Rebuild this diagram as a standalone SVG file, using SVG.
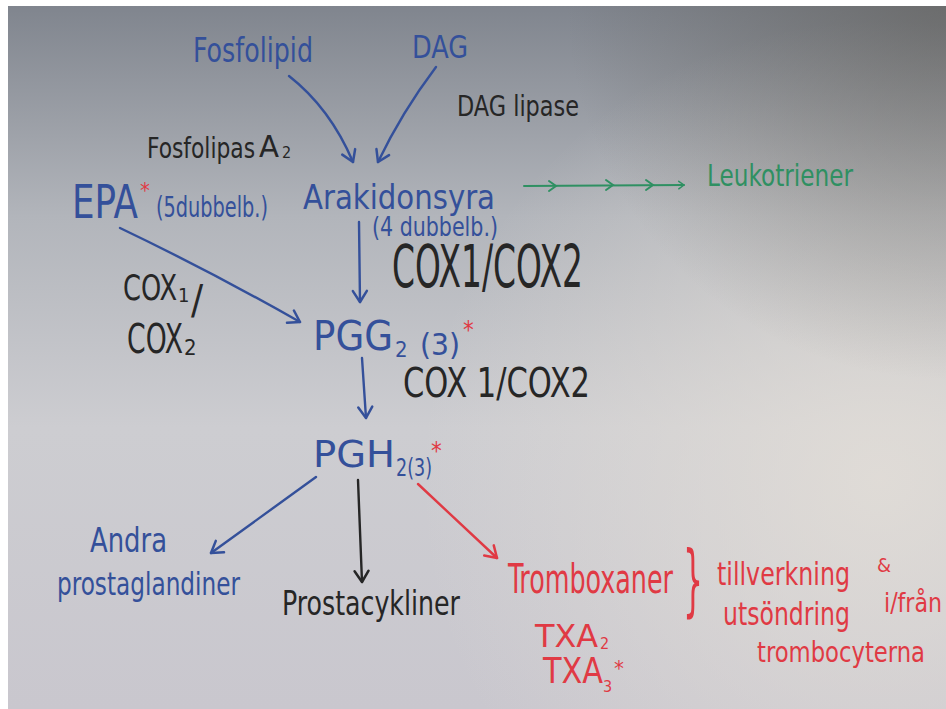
<svg xmlns="http://www.w3.org/2000/svg" width="946" height="709" viewBox="0 0 946 709">
  <defs>
    <linearGradient id="board" x1="0" y1="0" x2="0" y2="1">
      <stop offset="0" stop-color="#80858e"/>
      <stop offset="0.3" stop-color="#b2b5bb"/>
      <stop offset="0.6" stop-color="#cdcdd1"/>
      <stop offset="1" stop-color="#c9c7ce"/>
    </linearGradient>
    <radialGradient id="glow" cx="880" cy="480" r="460" gradientUnits="userSpaceOnUse">
      <stop offset="0" stop-color="#e4dfd8" stop-opacity="0.8"/>
      <stop offset="1" stop-color="#e4dfd8" stop-opacity="0"/>
    </radialGradient>
    <radialGradient id="shade" cx="946" cy="0" r="380" gradientUnits="userSpaceOnUse">
      <stop offset="0" stop-color="#5e5c57" stop-opacity="0.6"/>
      <stop offset="1" stop-color="#5e5c57" stop-opacity="0"/>
    </radialGradient>
    <marker id="hBlue" viewBox="-14 -9 16 18" refX="0" refY="0" markerWidth="16" markerHeight="18" markerUnits="userSpaceOnUse" orient="auto">
      <path d="M-11,-7 L0,0 L-11,7" fill="none" stroke="#34509a" stroke-width="2.5" stroke-linecap="round" stroke-linejoin="round"/>
    </marker>
    <marker id="hBlack" viewBox="-14 -9 16 18" refX="0" refY="0" markerWidth="16" markerHeight="18" markerUnits="userSpaceOnUse" orient="auto">
      <path d="M-11,-7 L0,0 L-11,7" fill="none" stroke="#262626" stroke-width="2.5" stroke-linecap="round" stroke-linejoin="round"/>
    </marker>
    <marker id="hRed" viewBox="-14 -9 16 18" refX="0" refY="0" markerWidth="16" markerHeight="18" markerUnits="userSpaceOnUse" orient="auto">
      <path d="M-11,-7 L0,0 L-11,7" fill="none" stroke="#e03a44" stroke-width="2.5" stroke-linecap="round" stroke-linejoin="round"/>
    </marker>
    <marker id="hGreen" viewBox="-14 -9 16 18" refX="0" refY="0" markerWidth="12" markerHeight="14" markerUnits="userSpaceOnUse" orient="auto">
      <path d="M-7,-5 L0,0 L-7,5" fill="none" stroke="#2f9062" stroke-width="2" stroke-linecap="round" stroke-linejoin="round"/>
    </marker>
  </defs>
  <style>
    text { font-family: "Liberation Sans Narrow", "DejaVu Sans Condensed", "Liberation Sans", sans-serif; }
    .blue { fill: #34509a; }
    .black { fill: #262626; }
    .red { fill: #e03a44; }
    .green { fill: #2f9062; }
    .star { fill: #e03a44; }
    .ln { fill: none; stroke-width: 2.4; stroke-linecap: round; }
    .lb { stroke: #34509a; }
    .lk { stroke: #262626; }
    .lr { stroke: #e03a44; }
    .lg { stroke: #2f9062; stroke-width: 2; }
  </style>

  <!-- whiteboard -->
  <rect x="0" y="0" width="946" height="709" fill="#ffffff"/>
  <rect x="8" y="6" width="938" height="703" fill="url(#board)"/>
  <rect x="8" y="6" width="938" height="703" fill="url(#glow)"/>
  <rect x="8" y="6" width="938" height="703" fill="url(#shade)"/>

  <g id="connectors">
    <path class="ln lb" d="M289,76 Q330,108 353,162" marker-end="url(#hBlue)"/>
    <path class="ln lb" stroke-width="2" d="M436,67 Q402,112 378,162" marker-end="url(#hBlue)"/>
    <path class="ln lb" d="M120,228 Q212,272 300,322" marker-end="url(#hBlue)"/>
    <path class="ln lb" d="M359,222 L360,302" marker-end="url(#hBlue)"/>
    <path class="ln lb" d="M362,358 L366,418" marker-end="url(#hBlue)"/>
    <path class="ln lb" d="M316,477 L211,553" marker-end="url(#hBlue)"/>
    <path class="ln lk" d="M358,480 L362,582" marker-end="url(#hBlack)"/>
    <path class="ln lr" d="M418,484 L497,558" marker-end="url(#hRed)"/>
    <path class="ln lg" d="M524,186 L684,185" marker-end="url(#hGreen)"/>
    <path class="ln lg" d="M549,181 L556,186 L549,191 M606,180 L613,185 L606,190 M646,180 L653,185 L646,190"/>
  </g>

  <g id="fosfolipid"><text class="blue" x="193" y="62" font-size="34" textLength="120" lengthAdjust="spacingAndGlyphs">Fosfolipid</text></g>
  <g id="dag"><text class="blue" x="412" y="58" font-size="32" textLength="56" lengthAdjust="spacingAndGlyphs">DAG</text></g>
  <g id="dag-lipase"><text class="black" x="457" y="116" font-size="28" textLength="122" lengthAdjust="spacingAndGlyphs">DAG lipase</text></g>
  <g id="fosfolipas-a2">
    <text class="black" x="147" y="158" font-size="28"><tspan textLength="108" lengthAdjust="spacingAndGlyphs">Fosfolipas</tspan><tspan x="259" y="157" font-size="30" textLength="20" lengthAdjust="spacingAndGlyphs">A</tspan><tspan x="282" y="158" font-size="16">2</tspan></text>
  </g>

  <g id="epa">
    <text class="blue" x="72" y="218" font-size="46"><tspan textLength="66" lengthAdjust="spacingAndGlyphs">EPA</tspan><tspan class="star" x="140" y="198" font-size="22">*</tspan><tspan x="156" y="217" font-size="28" textLength="112" lengthAdjust="spacingAndGlyphs">(5dubbelb.)</tspan></text>
  </g>

  <g id="arakidonsyra">
    <text class="blue" x="303" y="209" font-size="34" textLength="192" lengthAdjust="spacingAndGlyphs">Arakidonsyra</text>
    <text class="blue" x="372" y="236" font-size="26" textLength="126" lengthAdjust="spacingAndGlyphs">(4 dubbelb.)</text>
  </g>

  <g id="leukotriener"><text class="green" x="707" y="186" font-size="30" textLength="146" lengthAdjust="spacingAndGlyphs">Leukotriener</text></g>

  <g id="cox-upper"><text class="black" x="392" y="287" font-size="58" textLength="191" lengthAdjust="spacingAndGlyphs">COX1/COX2</text></g>

  <g id="cox-left">
    <text class="black" x="123" y="300" font-size="36"><tspan textLength="54" lengthAdjust="spacingAndGlyphs">COX</tspan><tspan x="178" y="302" font-size="20">1</tspan><tspan x="191" y="314" font-size="40">/</tspan><tspan x="127" y="353" font-size="40" textLength="56" lengthAdjust="spacingAndGlyphs">COX</tspan><tspan x="184" y="355" font-size="22">2</tspan></text>
  </g>

  <g id="pgg2">
    <text class="blue" x="313" y="350" font-size="40"><tspan textLength="80" lengthAdjust="spacingAndGlyphs">PGG</tspan><tspan x="395" y="357" font-size="22">2</tspan><tspan x="420" y="355" font-size="30" textLength="40" lengthAdjust="spacingAndGlyphs">(3)</tspan><tspan class="star" x="463" y="338" font-size="24">*</tspan></text>
  </g>

  <g id="cox-lower"><text class="black" x="403" y="397" font-size="40" textLength="187" lengthAdjust="spacingAndGlyphs">COX 1/COX2</text></g>

  <g id="pgh2">
    <text class="blue" x="313" y="467" font-size="38"><tspan textLength="82" lengthAdjust="spacingAndGlyphs">PGH</tspan><tspan x="396" y="476" font-size="24" textLength="36" lengthAdjust="spacingAndGlyphs">2(3)</tspan><tspan class="star" x="431" y="459" font-size="24">*</tspan></text>
  </g>

  <g id="andra-prostaglandiner">
    <text class="blue" x="90" y="552" font-size="34" textLength="77" lengthAdjust="spacingAndGlyphs">Andra</text>
    <text class="blue" x="57" y="595" font-size="32" textLength="183" lengthAdjust="spacingAndGlyphs">prostaglandiner</text>
  </g>

  <g id="prostacykliner"><text class="black" x="282" y="615" font-size="34" textLength="178" lengthAdjust="spacingAndGlyphs">Prostacykliner</text></g>

  <g id="tromboxaner">
    <text class="red" x="508" y="593" font-size="40" textLength="165" lengthAdjust="spacingAndGlyphs">Tromboxaner</text>
    <text class="red" x="535" y="647" font-size="32"><tspan textLength="63" lengthAdjust="spacingAndGlyphs">TXA</tspan><tspan x="600" y="649" font-size="16">2</tspan></text>
    <text class="red" x="543" y="683" font-size="36"><tspan textLength="60" lengthAdjust="spacingAndGlyphs">TXA</tspan><tspan x="603" y="692" font-size="16">3</tspan><tspan x="614" y="676" font-size="22">*</tspan></text>
  </g>

  <g id="tromboxaner-note">
    <text class="red" x="683" y="607" font-size="78" textLength="20" lengthAdjust="spacingAndGlyphs">}</text>
    <text class="red" x="717" y="585" font-size="32" textLength="133" lengthAdjust="spacingAndGlyphs">tillverkning</text>
    <text class="red" x="877" y="572" font-size="20">&amp;</text>
    <text class="red" x="723" y="625" font-size="32" textLength="127" lengthAdjust="spacingAndGlyphs">utsöndring</text>
    <text class="red" x="884" y="612" font-size="27" textLength="58" lengthAdjust="spacingAndGlyphs">i/från</text>
    <text class="red" x="757" y="662" font-size="28" textLength="168" lengthAdjust="spacingAndGlyphs">trombocyterna</text>
  </g>
</svg>
